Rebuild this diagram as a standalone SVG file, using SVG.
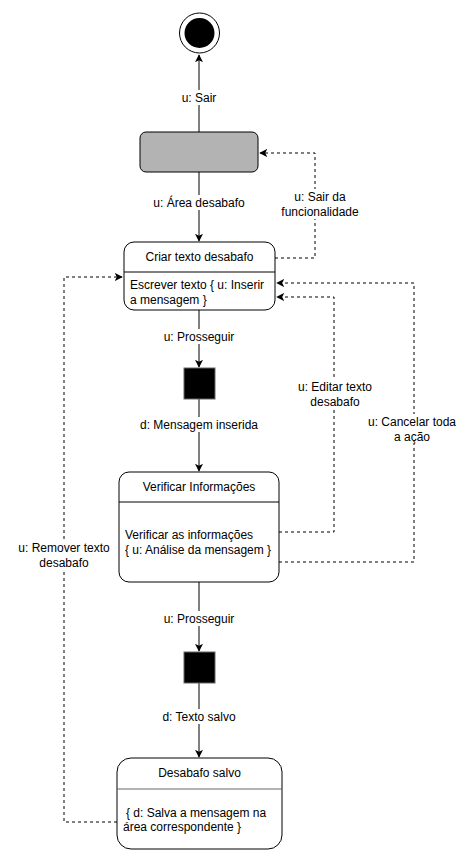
<svg xmlns="http://www.w3.org/2000/svg" width="462" height="857" viewBox="0 0 462 857">
<style>
text{font-family:"Liberation Sans",Arial,sans-serif;font-size:12px;fill:#000}
.c{text-anchor:middle}
.box{fill:#fff;stroke:#000;stroke-width:1}
.ln{fill:none;stroke:#000;stroke-width:1}
.ds{fill:none;stroke:#000;stroke-width:1;stroke-dasharray:3 3}
.lbl{fill:#fff}
</style>
<defs>
<marker id="ar" viewBox="0 0 10 10" refX="9" refY="5" markerWidth="8" markerHeight="8" orient="auto" markerUnits="userSpaceOnUse">
<path d="M0,0 L10,5 L0,10 L2.5,5 Z" fill="#000"/>
</marker>
</defs>
<rect width="462" height="857" fill="#fff"/>
<g id="connectors">
<line class="ln" x1="199" y1="132" x2="199" y2="55" marker-end="url(#ar)"/>
<line class="ln" x1="199" y1="172" x2="199" y2="241" marker-end="url(#ar)"/>
<polyline class="ds" points="275,258 315,258 315,153 260,153" marker-end="url(#ar)"/>
<line class="ln" x1="199" y1="310" x2="199" y2="367" marker-end="url(#ar)"/>
<line class="ln" x1="199" y1="399" x2="199" y2="471" marker-end="url(#ar)"/>
<polyline class="ds" points="279,532 334,532 334,297 277,297" marker-end="url(#ar)"/>
<polyline class="ds" points="279,562 414,562 414,283 277,283" marker-end="url(#ar)"/>
<line class="ln" x1="199" y1="582" x2="199" y2="651" marker-end="url(#ar)"/>
<line class="ln" x1="199" y1="683" x2="199" y2="757" marker-end="url(#ar)"/>
<polyline class="ds" points="117,822 64,822 64,277 122,277" marker-end="url(#ar)"/>
<rect class="lbl" x="177" y="90" width="44" height="15"/>
<text class="c" x="199" y="102">u: Sair</text>
<rect class="lbl" x="152" y="195" width="94" height="15"/>
<text class="c" x="199" y="207">u: Área desabafo</text>
<rect class="lbl" x="285" y="189" width="70" height="30"/>
<text class="c" x="320" y="201">u: Sair da</text>
<text class="c" x="320" y="216">funcionalidade</text>
<rect class="lbl" x="160" y="329" width="78" height="15"/>
<text class="c" x="199" y="341">u: Prosseguir</text>
<rect class="lbl" x="138" y="417" width="122" height="15"/>
<text class="c" x="199" y="429">d: Mensagem inserida</text>
<rect class="lbl" x="295" y="379" width="80" height="30"/>
<text class="c" x="335" y="391">u: Editar texto</text>
<text class="c" x="335" y="406">desabafo</text>
<rect class="lbl" x="366" y="414" width="92" height="30"/>
<text class="c" x="412" y="426">u: Cancelar toda</text>
<text class="c" x="412" y="441">a ação</text>
<rect class="lbl" x="160" y="611" width="78" height="15"/>
<text class="c" x="199" y="623">u: Prosseguir</text>
<rect class="lbl" x="160" y="709" width="78" height="15"/>
<text class="c" x="199" y="721">d: Texto salvo</text>
<rect class="lbl" x="8" y="540" width="112" height="30"/>
<text class="c" x="64" y="552">u: Remover texto</text>
<text class="c" x="64" y="567">desabafo</text>
</g>
<g id="final">
<circle cx="199.5" cy="33" r="20" fill="#fff" stroke="#000" stroke-width="1"/>
<circle cx="199.5" cy="33" r="15" fill="#000"/>
</g>
<g id="area">
<rect x="140" y="132" width="118" height="40" rx="6" fill="#b3b3b3" stroke="#000" stroke-width="1"/>
</g>
<g id="criar">
<rect class="box" x="124" y="242" width="151" height="68" rx="10"/>
<line class="ln" x1="124" y1="272" x2="275" y2="272"/>
<text class="c" x="199.5" y="261">Criar texto desabafo</text>
<text x="130" y="289">Escrever texto { u: Inserir</text>
<text x="130" y="304">a mensagem }</text>
</g>
<g id="bar1">
<rect x="184" y="368" width="31" height="31" fill="#000" stroke="#666" stroke-width="1"/>
</g>
<g id="verificar">
<rect class="box" x="119" y="472" width="160" height="110" rx="10"/>
<line class="ln" x1="119" y1="502" x2="279" y2="502"/>
<text class="c" x="199" y="491">Verificar Informações</text>
<text x="125" y="539">Verificar as informações</text>
<text x="125" y="554">{ u: Análise da mensagem }</text>
</g>
<g id="bar2">
<rect x="184" y="652" width="31" height="31" fill="#000" stroke="#666" stroke-width="1"/>
</g>
<g id="salvo">
<rect class="box" x="117" y="758" width="165" height="91" rx="14"/>
<line x1="117" y1="789" x2="282" y2="789" stroke="#666" stroke-width="1"/>
<text class="c" x="199.5" y="777">Desabafo salvo</text>
<text x="126" y="817">{ d: Salva a mensagem na</text>
<text x="123" y="831">área correspondente }</text>
</g>
</svg>
